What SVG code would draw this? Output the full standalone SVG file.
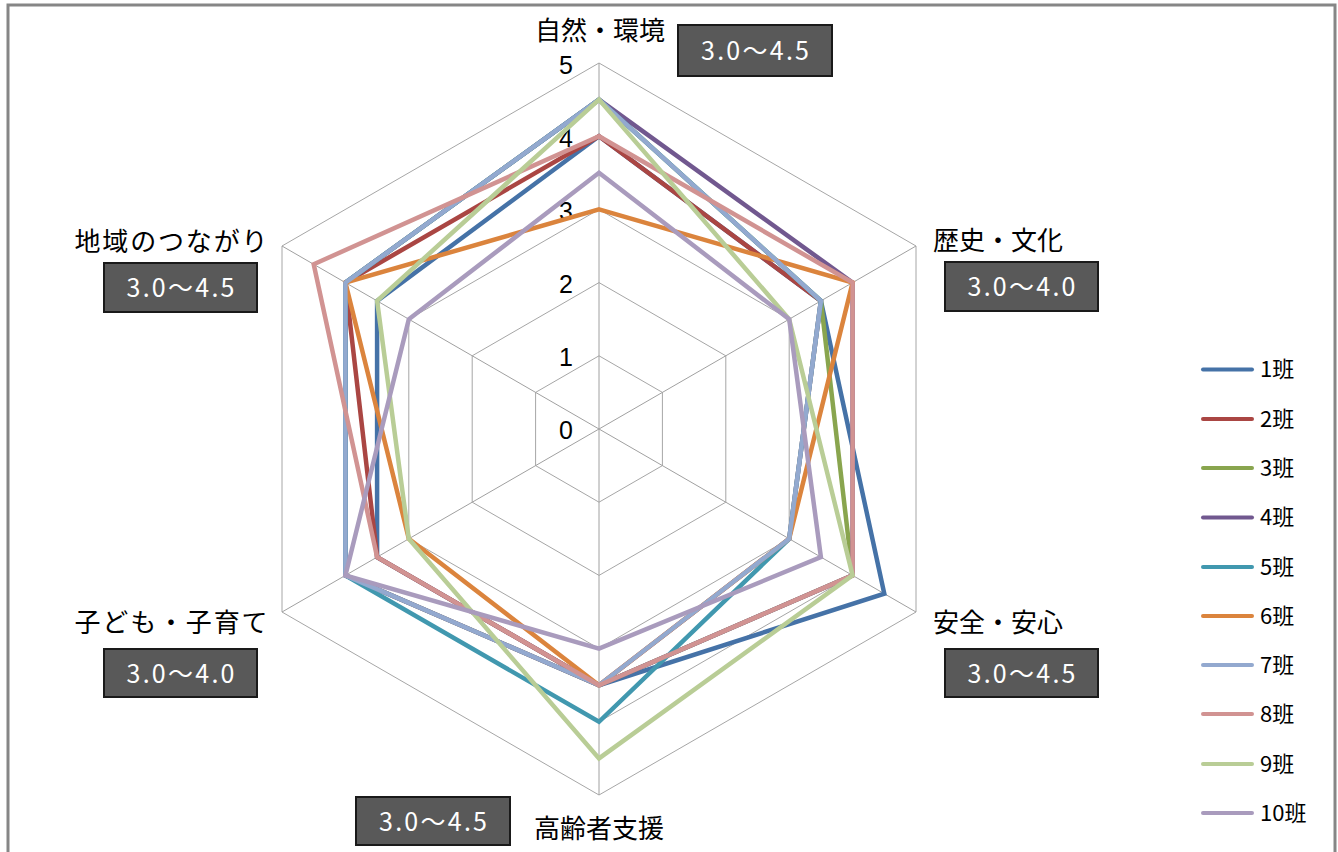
<svg xmlns="http://www.w3.org/2000/svg" width="1338" height="852" viewBox="0 0 1338 852">
<style>
.grid{fill:none;stroke:#a6a6a6;stroke-width:1}
.spoke{stroke:#a0a0a0;stroke-width:1}
.s{fill:none;stroke-width:4.5;stroke-linejoin:miter;stroke-miterlimit:10}
.lbl{font-family:"Noto Sans CJK JP","Noto Sans CJK SC",sans-serif;font-size:26px;fill:#000;text-anchor:middle}
.box rect{fill:#595959;stroke:#1a1a1a;stroke-width:2}
.box text{font-family:"Noto Sans CJK JP",sans-serif;font-size:25px;fill:#fff;text-anchor:middle}
.num{font-family:"Liberation Sans",sans-serif;font-size:25px;fill:#000;text-anchor:end}
.leg{font-family:"Noto Sans CJK JP",sans-serif;font-size:22px;fill:#000}
.legl{stroke-width:4;stroke-linecap:round}
</style>
<rect x="8" y="5" width="1327" height="900" fill="#fff" stroke="#868686" stroke-width="3"/>
<g id="grid">
<polygon class="grid" points="599,355.8 662.4,392.4 662.4,465.6 599,502.2 535.6,465.6 535.6,392.4"/>
<polygon class="grid" points="599,282.6 725.8,355.8 725.8,502.2 599,575.4 472.2,502.2 472.2,355.8"/>
<polygon class="grid" points="599,209.4 789.2,319.2 789.2,538.8 599,648.6 408.8,538.8 408.8,319.2"/>
<polygon class="grid" points="599,136.2 852.6,282.6 852.6,575.4 599,721.8 345.4,575.4 345.4,282.6"/>
<polygon class="grid" points="599,63 916,246 916,612 599,795 282,612 282,246"/>
<line class="spoke" x1="599" y1="429" x2="599" y2="63"/>
<line class="spoke" x1="599" y1="429" x2="916" y2="246"/>
<line class="spoke" x1="599" y1="429" x2="916" y2="612"/>
<line class="spoke" x1="599" y1="429" x2="599" y2="795"/>
<line class="spoke" x1="599" y1="429" x2="282" y2="612"/>
<line class="spoke" x1="599" y1="429" x2="282" y2="246"/>
</g>
<g id="scale">
<text class="num" x="573" y="74">5</text>
<text class="num" x="573" y="147">4</text>
<text class="num" x="573" y="220">3</text>
<text class="num" x="573" y="293">2</text>
<text class="num" x="573" y="366">1</text>
<text class="num" x="573" y="439">0</text>
</g>
<g id="connectors">
<polygon class="s" stroke="#4572A7" points="599,136.2 820.9,300.9 884.3,593.7 599,685.2 377.1,557.1 377.1,300.9"/>
<polygon class="s" stroke="#AA4643" points="599,136.2 820.9,300.9 789.2,538.8 599,685.2 377.1,557.1 345.4,282.6"/>
<polygon class="s" stroke="#89A54E" points="599,99.6 820.9,300.9 852.6,575.4 599,685.2 345.4,575.4 345.4,282.6"/>
<polygon class="s" stroke="#71588F" points="599,99.6 852.6,282.6 852.6,575.4 599,685.2 345.4,575.4 345.4,282.6"/>
<polygon class="s" stroke="#4198AF" points="599,99.6 820.9,300.9 789.2,538.8 599,721.8 345.4,575.4 345.4,282.6"/>
<polygon class="s" stroke="#DB843D" points="599,209.4 852.6,282.6 789.2,538.8 599,685.2 408.8,538.8 345.4,282.6"/>
<polygon class="s" stroke="#93A9CF" points="599,99.6 820.9,300.9 789.2,538.8 599,685.2 345.4,575.4 345.4,282.6"/>
<polygon class="s" stroke="#D19392" points="599,136.2 852.6,282.6 852.6,575.4 599,685.2 377.1,557.1 313.7,264.3"/>
<polygon class="s" stroke="#B9CD96" points="599,99.6 789.2,319.2 852.6,575.4 599,758.4 408.8,538.8 377.1,300.9"/>
<polygon class="s" stroke="#A99BBD" points="599,172.8 789.2,319.2 820.9,557.1 599,648.6 345.4,575.4 408.8,319.2"/>
</g>
<g id="axis-nature">
<text class="lbl" x="600" y="40">自然・環境</text>
<g class="box"><rect x="678" y="25" width="154" height="51"/><text x="755" y="60" textLength="108" lengthAdjust="spacing">3.0〜4.5</text></g>
</g>
<g id="axis-history">
<text class="lbl" x="998" y="250">歴史・文化</text>
<g class="box"><rect x="945" y="262" width="153" height="49"/><text x="1021.5" y="296" textLength="108" lengthAdjust="spacing">3.0〜4.0</text></g>
</g>
<g id="axis-safety">
<text class="lbl" x="998" y="632">安全・安心</text>
<g class="box"><rect x="945" y="649" width="153" height="48"/><text x="1021.5" y="683" textLength="108" lengthAdjust="spacing">3.0〜4.5</text></g>
</g>
<g id="axis-elderly">
<text class="lbl" x="599" y="838">高齢者支援</text>
<g class="box"><rect x="356" y="797" width="154" height="48"/><text x="433" y="831" textLength="108" lengthAdjust="spacing">3.0〜4.5</text></g>
</g>
<g id="axis-children">
<text class="lbl" x="171" y="632" textLength="193" lengthAdjust="spacing">子ども・子育て</text>
<g class="box"><rect x="104" y="649" width="153" height="48"/><text x="180.5" y="683" textLength="108" lengthAdjust="spacing">3.0〜4.0</text></g>
</g>
<g id="axis-community">
<text class="lbl" x="171" y="251" textLength="193" lengthAdjust="spacing">地域のつながり</text>
<g class="box"><rect x="104" y="263" width="153" height="49"/><text x="180.5" y="297" textLength="108" lengthAdjust="spacing">3.0〜4.5</text></g>
</g>
<g id="legend">
<line class="legl" x1="1203" y1="369.5" x2="1252" y2="369.5" stroke="#4572A7"/><text class="leg" x="1260" y="377">1班</text>
<line class="legl" x1="1203" y1="419" x2="1252" y2="419" stroke="#AA4643"/><text class="leg" x="1260" y="427">2班</text>
<line class="legl" x1="1203" y1="468" x2="1252" y2="468" stroke="#89A54E"/><text class="leg" x="1260" y="476">3班</text>
<line class="legl" x1="1203" y1="517.5" x2="1252" y2="517.5" stroke="#71588F"/><text class="leg" x="1260" y="525">4班</text>
<line class="legl" x1="1203" y1="567" x2="1252" y2="567" stroke="#4198AF"/><text class="leg" x="1260" y="575">5班</text>
<line class="legl" x1="1203" y1="616" x2="1252" y2="616" stroke="#DB843D"/><text class="leg" x="1260" y="624">6班</text>
<line class="legl" x1="1203" y1="665" x2="1252" y2="665" stroke="#93A9CF"/><text class="leg" x="1260" y="673">7班</text>
<line class="legl" x1="1203" y1="714" x2="1252" y2="714" stroke="#D19392"/><text class="leg" x="1260" y="722">8班</text>
<line class="legl" x1="1203" y1="764" x2="1252" y2="764" stroke="#B9CD96"/><text class="leg" x="1260" y="772">9班</text>
<line class="legl" x1="1203" y1="813" x2="1252" y2="813" stroke="#A99BBD"/><text class="leg" x="1260" y="821">10班</text>
</g>
</svg>
